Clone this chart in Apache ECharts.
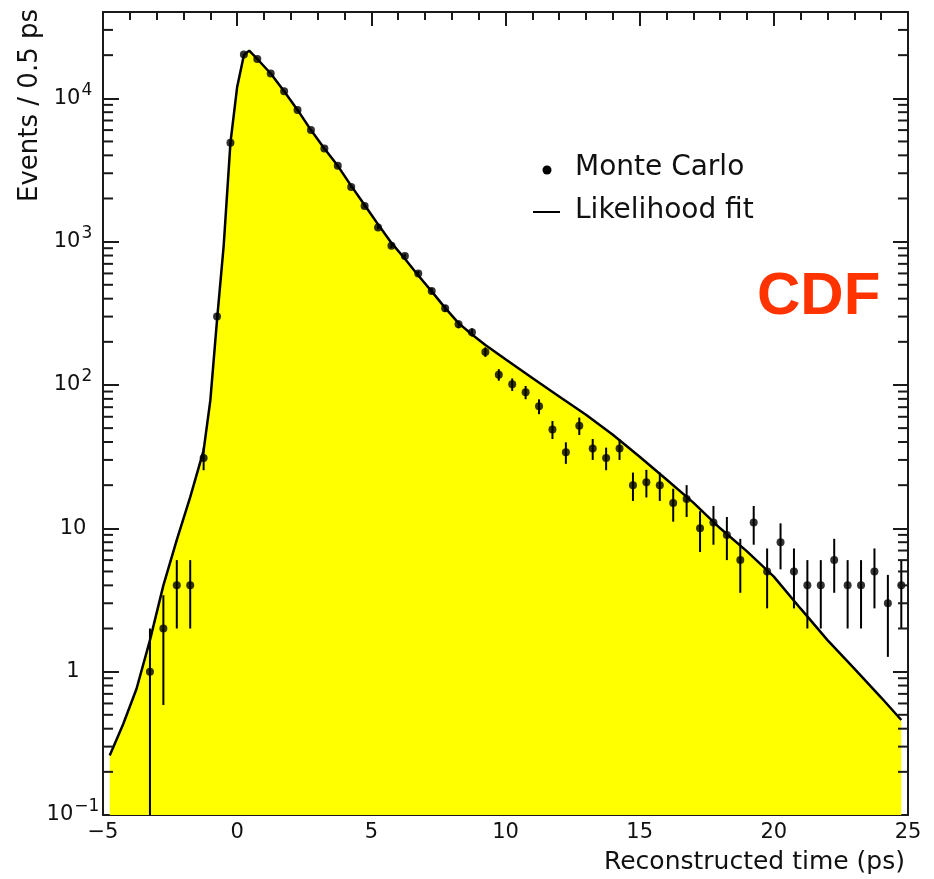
<!DOCTYPE html>
<html>
<head>
<meta charset="utf-8">
<title>Reconstructed time distribution</title>
<script src="https://cdn.jsdelivr.net/npm/echarts@6/dist/echarts.min.js"></script>
<style>
  html, body { margin: 0; padding: 0; background: #fff; }
  #chart { width: 934px; height: 879px; }
</style>
</head>
<body>
<div id="chart"></div>
<script>
// Monte Carlo histogram: bin centres (ps) and event counts per 0.5 ps bin
const timeBins = [
  -3.25, -2.75, -2.25, -1.75, -1.25, -0.75, -0.25, 0.25, 0.75, 1.25,
  1.75, 2.25, 2.75, 3.25, 3.75, 4.25, 4.75, 5.25, 5.75, 6.25,
  6.75, 7.25, 7.75, 8.25, 8.75, 9.25, 9.75, 10.25, 10.75, 11.25,
  11.75, 12.25, 12.75, 13.25, 13.75, 14.25, 14.75, 15.25, 15.75, 16.25,
  16.75, 17.25, 17.75, 18.25, 18.75, 19.25, 19.75, 20.25, 20.75, 21.25,
  21.75, 22.25, 22.75, 23.25, 23.75, 24.25, 24.75
];
const mcCounts = [
  1, 2, 4, 4, 31, 300, 4900, 20200, 18800, 14900,
  11200, 8280, 6000, 4470, 3380, 2410, 1770, 1256, 935, 793,
  600, 452, 343, 265, 233, 170, 118, 101, 89, 71,
  49, 34, 52, 36, 31, 36, 20, 21, 20, 15,
  16, 10, 11, 9, 6, 11, 5, 8, 5, 4,
  4, 6, 4, 4, 5, 3, 4
];

// Likelihood fit curve
const fitTime = [
  -4.75, -4.25, -3.75, -3.25, -2.75, -2.25, -1.75, -1.25, -1.0, -0.75,
  -0.5, -0.25, 0, 0.25, 0.45, 0.75, 1.25, 1.75, 2.25, 2.75,
  3.25, 3.75, 4.25, 4.75, 5.25, 5.75, 6.25, 6.75, 7.25, 7.75,
  8.25, 8.75, 9.25, 10, 11, 12, 13, 14, 15, 16,
  17, 18, 19, 20, 21, 22, 23, 24, 24.75
];
const fitValue = [
  0.26, 0.43, 0.76, 1.66, 4.0, 8.3, 16.5, 35, 78, 285,
  950, 4900, 12000, 20000, 21500, 18800, 14900, 11200, 8300, 6000,
  4470, 3380, 2450, 1800, 1320, 980, 760, 580, 450, 345,
  270, 225, 190, 151, 112, 83, 62, 45, 31.6, 21.9,
  15.1, 10, 6.9, 4.6, 2.75, 1.66, 1.05, 0.66, 0.46
];

// Axis ranges
const xMin = -5, xMax = 25, xStep = 5;
const yMin = 0.1, yMax = 40000;

const FONT = 'DejaVu Sans';

// Log-axis minor tick positions (2..9 x each decade)
const yMinorTicks = [];
for (let k = -1; k <= 4; k++) {
  for (let m = 2; m <= 9; m++) {
    const v = m * Math.pow(10, k);
    if (v < yMax) yMinorTicks.push(v);
  }
}

function logLabel(v) {
  const e = Math.round(Math.log10(v));
  if (Math.abs(Math.log10(v) - e) > 1e-6) return '';
  if (e === 0) return '{num|1}';
  if (e === 1) return '{num|10}';
  return '{num|10}{exp|' + (e < 0 ? '\u2212' : '') + Math.abs(e) + '}';
}

const chart = echarts.init(document.getElementById('chart'), null, { renderer: 'canvas' });

const axisLineStyle = { color: '#1a1a1a', width: 2 };
const tickStyle = { color: '#1a1a1a', width: 2 };

const option = {
  animation: false,
  backgroundColor: '#ffffff',
  grid: { left: 103, right: 26, top: 12, bottom: 64, containLabel: false },
  xAxis: [
    {
      type: 'value', min: xMin, max: xMax, interval: xStep,
      position: 'bottom',
      axisLine: { show: true, onZero: false, lineStyle: axisLineStyle },
      axisTick: { show: true, inside: true, length: 14, lineStyle: tickStyle },
      minorTick: { show: true, splitNumber: 5, length: 8, lineStyle: tickStyle },
      splitLine: { show: false },
      axisLabel: {
        margin: 7, fontFamily: FONT, fontSize: 21, color: '#111',
        formatter: v => String(v).replace('-', '\u2212')
      }
    },
    {
      type: 'value', min: xMin, max: xMax, interval: xStep,
      position: 'top',
      axisLine: { show: true, onZero: false, lineStyle: axisLineStyle },
      axisTick: { show: true, inside: true, length: 14, lineStyle: tickStyle },
      minorTick: { show: true, splitNumber: 5, length: 8, lineStyle: tickStyle },
      splitLine: { show: false },
      axisLabel: { show: false }
    }
  ],
  yAxis: [
    {
      type: 'log', logBase: 10, min: yMin, max: yMax,
      position: 'left',
      axisLine: { show: true, onZero: false, lineStyle: axisLineStyle },
      axisTick: { show: true, inside: true, length: 16, lineStyle: tickStyle },
      splitLine: { show: false },
      axisLabel: {
        margin: 30, align: 'center', color: '#111',
        fontFamily: FONT, fontSize: 21,
        formatter: logLabel,
        rich: {
          num: { fontFamily: FONT, fontSize: 21, color: '#111' },
          exp: { fontFamily: FONT, fontSize: 17, color: '#111', padding: [0, 0, 16, 1] }
        }
      }
    },
    {
      type: 'log', logBase: 10, min: yMin, max: yMax,
      position: 'right',
      axisLine: { show: true, onZero: false, lineStyle: axisLineStyle },
      axisTick: { show: true, inside: true, length: 15, lineStyle: tickStyle },
      splitLine: { show: false },
      axisLabel: { show: false }
    }
  ],
  series: [
    {
      name: 'Likelihood fit',
      type: 'line',
      xAxisIndex: 0, yAxisIndex: 0,
      data: fitTime.map((t, i) => [t, fitValue[i]]),
      showSymbol: false,
      smooth: false,
      lineStyle: { color: '#000', width: 2.5 },
      itemStyle: { color: '#000' },
      areaStyle: { color: '#ffff00', opacity: 1, origin: 'start' },
      z: 2
    },
    {
      name: 'Monte Carlo errors',
      type: 'custom',
      xAxisIndex: 0, yAxisIndex: 0,
      data: timeBins.map((t, i) => [t, mcCounts[i]]),
      renderItem: function (params, api) {
        const x = api.value(0), n = api.value(1);
        const s = Math.sqrt(n);
        const lo = Math.max(n - s, yMin);
        const hi = Math.min(n + s, yMax);
        const p1 = api.coord([x, hi]);
        const p2 = api.coord([x, lo]);
        return {
          type: 'line',
          shape: { x1: p1[0], y1: p1[1], x2: p2[0], y2: p2[1] },
          style: { stroke: '#000', lineWidth: 2 }
        };
      },
      z: 4,
      silent: true
    },
    {
      name: 'Monte Carlo',
      type: 'scatter',
      xAxisIndex: 0, yAxisIndex: 0,
      data: timeBins.map((t, i) => [t, mcCounts[i]]),
      symbol: 'circle',
      symbolSize: 8,
      itemStyle: { color: '#000' },
      z: 5
    },
    {
      name: 'log minor ticks',
      type: 'custom',
      xAxisIndex: 0, yAxisIndex: 0,
      data: yMinorTicks.map(v => [xMin, v]),
      renderItem: function (params, api) {
        const v = api.value(1);
        const pl = api.coord([xMin, v]);
        const pr = api.coord([xMax, v]);
        return {
          type: 'group',
          children: [
            { type: 'line', shape: { x1: pl[0], y1: pl[1], x2: pl[0] + 10, y2: pl[1] },
              style: { stroke: '#1a1a1a', lineWidth: 2 } },
            { type: 'line', shape: { x1: pr[0], y1: pr[1], x2: pr[0] - 10, y2: pr[1] },
              style: { stroke: '#1a1a1a', lineWidth: 2 } }
          ]
        };
      },
      z: 6,
      silent: true
    }
  ],
  graphic: [
    // Axis titles
    {
      type: 'text', x: 30, y: 9, rotation: Math.PI / 2,
      style: { text: 'Events / 0.5 ps', fontFamily: FONT, fontSize: 26, fill: '#111',
               textAlign: 'right', textVerticalAlign: 'middle' }
    },
    {
      type: 'text', x: 905, y: 862,
      style: { text: 'Reconstructed time (ps)', fontFamily: FONT, fontSize: 25, fill: '#111',
               textAlign: 'right', textVerticalAlign: 'middle' }
    },
    // Legend
    { type: 'circle', shape: { cx: 547, cy: 170, r: 4.5 }, style: { fill: '#000' }, z: 10 },
    {
      type: 'text', x: 575, y: 168,
      style: { text: 'Monte Carlo', fontFamily: FONT, fontSize: 28, fill: '#111',
               textAlign: 'left', textVerticalAlign: 'middle' }, z: 10
    },
    { type: 'line', shape: { x1: 533, y1: 212, x2: 560, y2: 212 }, style: { stroke: '#000', lineWidth: 2 }, z: 10 },
    {
      type: 'text', x: 575, y: 211,
      style: { text: 'Likelihood fit', fontFamily: FONT, fontSize: 28, fill: '#111',
               textAlign: 'left', textVerticalAlign: 'middle' }, z: 10
    },
    // Experiment tag
    {
      type: 'text', x: 757, y: 297,
      style: { text: 'CDF', fontFamily: 'Liberation Sans', fontWeight: 'bold', fontSize: 60,
               fill: '#ff3300', textAlign: 'left', textVerticalAlign: 'middle' }, z: 10
    }
  ]
};

chart.setOption(option);
</script>
</body>
</html>
